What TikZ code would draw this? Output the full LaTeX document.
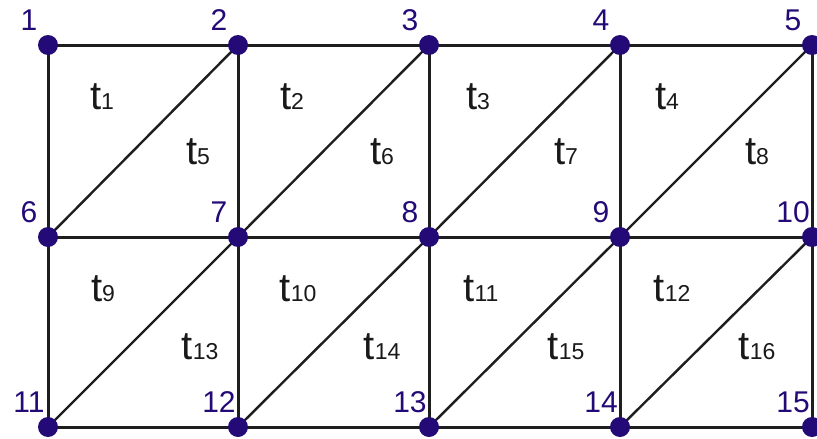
\documentclass[tikz,border=0pt]{standalone}
\usepackage{fontspec}
\setmainfont{Liberation Sans}
\definecolor{nodeblue}{RGB}{36,10,118}
\definecolor{edgegray}{RGB}{30,30,30}
\newcommand{\tl}[1]{{\fontsize{40}{40}\selectfont t}{\fontsize{23}{23}\selectfont #1}}
\begin{document}
\begin{tikzpicture}[x=1pt,y=-1pt,
  vtx/.style={circle,fill=nodeblue,inner sep=0pt,minimum size=20pt},
  edge/.style={draw=edgegray,line width=3pt},
  diag/.style={draw=edgegray,line width=2.4pt},
  num/.style={text=nodeblue,font=\fontsize{30}{30}\selectfont,inner sep=0pt},
  tri/.style={text=black!90,inner sep=0pt}]
\useasboundingbox (0,0) rectangle (817,439);
\fill[white] (0,0) rectangle (817,439);
% vertices
\foreach \i/\x in {1/48,2/238,3/429,4/620,5/812}{\coordinate (p\i) at (\x,45);}
\foreach \i/\x in {6/48,7/238,8/429,9/620,10/812}{\coordinate (p\i) at (\x,237);}
\foreach \i/\x in {11/48,12/238,13/429,14/620,15/812}{\coordinate (p\i) at (\x,427);}
% edges
\draw[edge] (p1) -- (p5);
\draw[edge] (p6) -- (p10);
\draw[edge] (p11) -- (p15);
\draw[edge] (p1) -- (p11);
\draw[edge] (p2) -- (p12);
\draw[edge] (p3) -- (p13);
\draw[edge] (p4) -- (p14);
\draw[edge] (p5) -- (p15);
\draw[diag] (p6) -- (p2);
\draw[diag] (p7) -- (p3);
\draw[diag] (p8) -- (p4);
\draw[diag] (p9) -- (p5);
\draw[diag] (p11) -- (p7);
\draw[diag] (p12) -- (p8);
\draw[diag] (p13) -- (p9);
\draw[diag] (p14) -- (p10);
% dots and numbers
\foreach \i in {1,...,15}{
  \node[vtx] (v\i) at (p\i) {};
  \node[num] (n\i) at ([xshift=-19pt,yshift=25pt]p\i) {\i};
}
% triangle labels
\node[tri] (t1) at (102,97) {\tl{1}};
\node[tri] (t2) at (292,97) {\tl{2}};
\node[tri] (t3) at (478,97) {\tl{3}};
\node[tri] (t4) at (667,97) {\tl{4}};
\node[tri] (t5) at (198,152) {\tl{5}};
\node[tri] (t6) at (382,152) {\tl{6}};
\node[tri] (t7) at (566,152) {\tl{7}};
\node[tri] (t8) at (757,152) {\tl{8}};
\node[tri] (t9) at (103,289) {\tl{9}};
\node[tri] (t10) at (298,289) {\tl{10}};
\node[tri] (t11) at (481,289) {\tl{11}};
\node[tri] (t12) at (672,289) {\tl{12}};
\node[tri] (t13) at (200,347) {\tl{13}};
\node[tri] (t14) at (382,347) {\tl{14}};
\node[tri] (t15) at (566,347) {\tl{15}};
\node[tri] (t16) at (757,347) {\tl{16}};
\end{tikzpicture}
\end{document}
